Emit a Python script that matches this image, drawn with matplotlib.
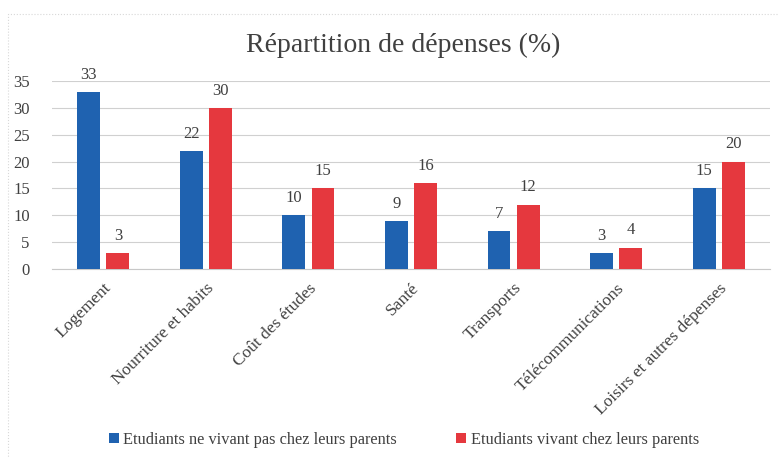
import matplotlib
matplotlib.use("Agg")
import matplotlib.pyplot as plt
import numpy as np
from matplotlib.patches import Rectangle

categories = ["Logement", "Nourriture et habits", "Coût des études", "Santé",
              "Transports", "Télécommunications", "Loisirs et autres dépenses"]
non_parents = [33, 22, 10, 9, 7, 3, 15]
parents = [3, 30, 15, 16, 12, 4, 20]
series_names = ["Etudiants ne vivant pas chez leurs parents",
                "Etudiants vivant chez leurs parents"]
yticks = [0, 5, 10, 15, 20, 25, 30, 35]

blue = "#1f62b0"
red = "#e5383e"
txt = "#404040"

plt.rcParams['font.family'] = ['Liberation Serif', 'DejaVu Serif']

fig = plt.figure(figsize=(7.79, 4.58), dpi=100)
W, H = 779, 458
ax = fig.add_axes([52 / W, 1 - 269 / H, (770 - 52) / W, (269 - 81) / H])

x = np.arange(len(categories))
bw = 0.224
off = 0.142
b1 = ax.bar(x - off, non_parents, bw, color=blue, label=series_names[0], zorder=3)
b2 = ax.bar(x + off, parents, bw, color=red, label=series_names[1], zorder=3)

for rects, vals in ((b1, non_parents), (b2, parents)):
    for r, v in zip(rects, vals):
        ax.text(r.get_x() + r.get_width() / 2, v + 1.7, str(v), ha="center", va="bottom",
                fontsize=12, color=txt)

ax.set_xlim(-0.5, len(categories) - 0.5)
ax.set_ylim(0, 35)
ax.set_yticks(yticks)
ax.yaxis.grid(True, color="#d0d0d0", linewidth=0.8, zorder=0)
ax.set_axisbelow(True)
for s in ["top", "right", "left"]:
    ax.spines[s].set_visible(False)
ax.spines["bottom"].set_color("#c8c8c8")
ax.tick_params(axis="both", length=0, colors=txt, labelsize=12)
ax.tick_params(axis="y", pad=16)
ax.set_xticks(x)
ax.set_xticklabels(categories, rotation=45, ha="right", rotation_mode="anchor",
                   fontsize=12.5, color=txt)
ax.tick_params(axis="x", pad=8)

fig.text(403 / W, 1 - 45 / H, "Répartition de dépenses (%)", ha="center", va="center",
         fontsize=20, color=txt)

leg = fig.legend(handles=[b1, b2], labels=series_names, loc="center",
                 bbox_to_anchor=(404 / W, 1 - 440 / H), ncol=2, frameon=False,
                 fontsize=11.8, handlelength=0.6, handleheight=0.6, handletextpad=0.3,
                 columnspacing=3.6)
for t in leg.get_texts():
    t.set_color(txt)

fig.patches.append(Rectangle((8 / W, -0.1), 1.1, (1 - 14 / H) + 0.1,
                             transform=fig.transFigure, fill=False,
                             edgecolor="#d8d8d8", linewidth=0.8, linestyle=":"))

fig.savefig("out.png", dpi=100)
